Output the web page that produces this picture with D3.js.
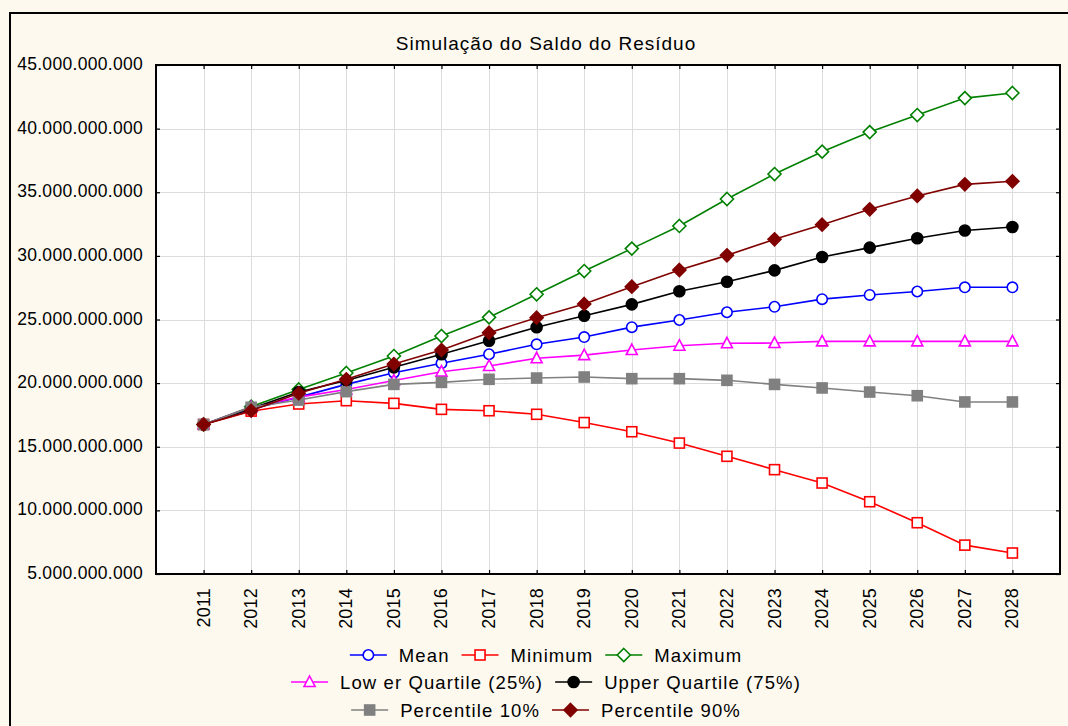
<!DOCTYPE html>
<html>
<head>
<meta charset="utf-8">
<script src="https://cdn.jsdelivr.net/npm/d3@7"></script>
<style>
  html, body { margin: 0; padding: 0; background: #fdf9ef; }
  svg { display: block; font-family: "Liberation Sans", Arial, sans-serif; }
</style>
</head>
<body>
<svg id="chart" width="1068" height="726"></svg>
<script>
// ---- data (values in units) ----
const years = [2011,2012,2013,2014,2015,2016,2017,2018,2019,2020,2021,2022,2023,2024,2025,2026,2027,2028];
const meanVals  = [16.75,17.95,18.9,19.9,20.82,21.56,22.27,23.05,23.62,24.4,24.96,25.57,26.0,26.6,26.93,27.2,27.53,27.53].map(v => v*1e9);
const minVals   = [16.75,17.8,18.36,18.62,18.41,17.94,17.83,17.55,16.9,16.18,15.29,14.25,13.2,12.15,10.68,9.03,7.27,6.65].map(v => v*1e9);
const maxVals   = [16.75,18.15,19.5,20.8,22.13,23.7,25.17,26.98,28.81,30.57,32.35,34.47,36.43,38.19,39.73,41.07,42.4,42.8].map(v => v*1e9);
const lowerQVals= [16.75,18.1,18.9,19.5,20.2,20.9,21.35,21.95,22.2,22.6,22.94,23.13,23.15,23.28,23.28,23.28,23.28,23.28].map(v => v*1e9);
const upperQVals= [16.75,18.0,19.3,20.2,21.24,22.27,23.33,24.39,25.3,26.19,27.22,27.97,28.86,29.91,30.65,31.38,32.0,32.27].map(v => v*1e9);
const p10Vals   = [16.75,18.1,18.67,19.33,19.9,20.06,20.3,20.4,20.48,20.35,20.35,20.22,19.9,19.62,19.3,19.01,18.52,18.52].map(v => v*1e9);
const p90Vals   = [16.75,17.83,19.2,20.3,21.5,22.6,23.96,25.14,26.22,27.58,28.89,30.04,31.3,32.45,33.66,34.71,35.62,35.86].map(v => v*1e9);
const yTicks = [5e9,10e9,15e9,20e9,25e9,30e9,35e9,40e9,45e9];
const seriesNames = ["Mean","Minimum","Maximum","Low er Quartile (25%)","Upper Quartile (75%)","Percentile 10%","Percentile 90%"];
const title = "Simulação do Saldo do Resíduo";

// ---- styles ----
const seriesStyle = [
  {color:"#0000ff", shape:"circle",   fill:false},
  {color:"#ff0000", shape:"square",   fill:false},
  {color:"#008000", shape:"diamond",  fill:false},
  {color:"#ff00ff", shape:"triangle", fill:false},
  {color:"#000000", shape:"circle",   fill:true},
  {color:"#808080", shape:"square",   fill:true},
  {color:"#800000", shape:"diamond",  fill:true}
];
const seriesVals = [meanVals,minVals,maxVals,lowerQVals,upperQVals,p10Vals,p90Vals];

const svg = d3.select("#chart");
const fmt = v => d3.format(",")(v).replace(/,/g, ".");

// outer frame
svg.append("rect").attr("x",10).attr("y",13).attr("width",1200).attr("height",900)
  .attr("fill","#fdf9ef").attr("stroke","#000").attr("stroke-width",2);

const L = 156, R = 1060, T = 65, B = 574;
const x = d3.scaleLinear().domain([2010, 2029]).range([L, R]);
const y = d3.scaleLinear().domain([5e9, 45e9]).range([B, T]);

// plot background
svg.append("rect").attr("x",L).attr("y",T).attr("width",R-L).attr("height",B-T).attr("fill","#fff");

// grid
const grid = svg.append("g").attr("stroke","#dcdcdc").attr("stroke-width",1);
grid.selectAll(".vg").data(years).join("line")
  .attr("x1",d=>Math.round(x(d))+0.5).attr("x2",d=>Math.round(x(d))+0.5).attr("y1",T).attr("y2",B);
grid.selectAll(".hg").data(yTicks).join("line")
  .attr("x1",L).attr("x2",R).attr("y1",d=>Math.round(y(d))+0.5).attr("y2",d=>Math.round(y(d))+0.5);

// axes (inside ticks)
const axL = svg.append("g").attr("transform",`translate(${L},0)`)
  .call(d3.axisRight(y).tickValues(yTicks).tickSize(4).tickFormat(""));
const axR = svg.append("g").attr("transform",`translate(${R},0)`)
  .call(d3.axisLeft(y).tickValues(yTicks).tickSize(4).tickFormat(""));
const axB = svg.append("g").attr("transform",`translate(0,${B})`)
  .call(d3.axisTop(x).tickValues(years).tickSize(4).tickFormat(""));
const axT = svg.append("g").attr("transform",`translate(0,${T})`)
  .call(d3.axisBottom(x).tickValues(years).tickSize(4).tickFormat(""));
[axL,axR,axB,axT].forEach(a => { a.select(".domain").remove(); a.selectAll("line").attr("stroke","#000").attr("stroke-width",1.2); });

// y labels
svg.append("g").selectAll("text").data(yTicks).join("text")
  .attr("x",143).attr("y",d=>y(d)-1).attr("text-anchor","end").attr("dominant-baseline","central")
  .attr("font-size",17.5).attr("letter-spacing","0.3px").attr("fill","#000").text(fmt);

// x labels (rotated)
svg.append("g").selectAll("text").data(years).join("text")
  .attr("transform",d=>`translate(${x(d)},588) rotate(-90)`)
  .attr("text-anchor","end").attr("dominant-baseline","central")
  .attr("font-size",18).attr("letter-spacing","0.2px").attr("fill","#000").text(d=>d);

// plot frame
svg.append("rect").attr("x",L).attr("y",T).attr("width",R-L).attr("height",B-T)
  .attr("fill","none").attr("stroke","#000").attr("stroke-width",2);

// title
svg.append("text").attr("x",546).attr("y",50).attr("text-anchor","middle")
  .attr("font-size",19).attr("letter-spacing","1px").attr("fill","#000").text(title);

// marker drawing
function marker(g, st, cx, cy) {
  const fill = st.fill ? st.color : "#fff";
  if (st.shape === "circle") {
    g.append("circle").attr("cx",cx).attr("cy",cy).attr("r", st.fill ? 5.5 : 5.2)
      .attr("fill",fill).attr("stroke",st.color).attr("stroke-width",1.6);
  } else if (st.shape === "square") {
    g.append("rect").attr("x",cx-5).attr("y",cy-5).attr("width",10).attr("height",10)
      .attr("fill",fill).attr("stroke",st.color).attr("stroke-width",1.6);
  } else if (st.shape === "diamond") {
    const s = 6.5;
    g.append("path").attr("d",`M${cx},${cy-s}L${cx+s},${cy}L${cx},${cy+s}L${cx-s},${cy}Z`)
      .attr("fill",fill).attr("stroke",st.color).attr("stroke-width",1.6);
  } else if (st.shape === "triangle") {
    g.append("path").attr("d",`M${cx},${cy-6}L${cx+5.5},${cy+4.5}L${cx-5.5},${cy+4.5}Z`)
      .attr("fill",fill).attr("stroke",st.color).attr("stroke-width",1.6);
  }
}

// series
const line = d3.line().x((d,i)=>x(years[i])).y(d=>y(d));
seriesVals.forEach((vals, k) => {
  const st = seriesStyle[k];
  const g = svg.append("g");
  g.append("path").datum(vals).attr("d",line).attr("fill","none")
    .attr("stroke",st.color).attr("stroke-width",1.6);
  vals.forEach((v,i) => marker(g, st, x(years[i]), y(v)));
});

// legend
const rows = [[0,1,2],[3,4],[5,6]];
const rowY = [655, 682, 710];
const legend = svg.append("g");
rows.forEach((row, ri) => {
  const rg = legend.append("g");
  let cursor = 0;
  row.forEach((k, j) => {
    const st = seriesStyle[k];
    const ig = rg.append("g");
    ig.append("line").attr("x1",cursor).attr("x2",cursor+37).attr("y1",rowY[ri]).attr("y2",rowY[ri])
      .attr("stroke",st.color).attr("stroke-width",1.6);
    marker(ig, st, cursor+18.5, rowY[ri]);
    const t = ig.append("text").attr("x",cursor+49).attr("y",rowY[ri]).attr("dominant-baseline","central")
      .attr("font-size",18.5).attr("letter-spacing","1.1px").attr("fill","#000").text(seriesNames[k]);
    cursor += 49 + t.node().getComputedTextLength() + 12;
  });
  const w = cursor - 12;
  rg.attr("transform",`translate(${546 - w/2},0)`);
});
</script>
</body>
</html>
